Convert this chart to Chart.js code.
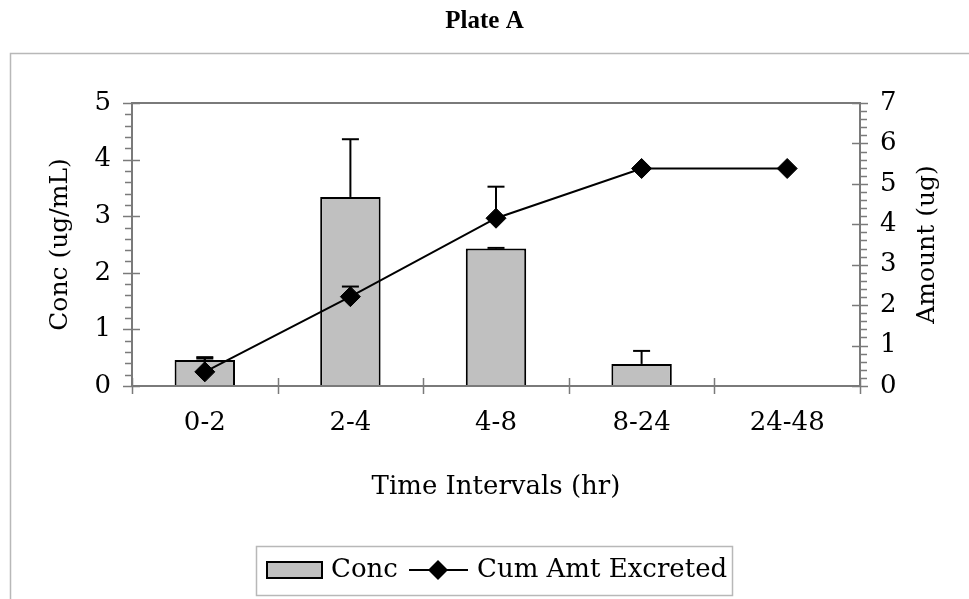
<!DOCTYPE html>
<html>
<head>
<meta charset="utf-8">
<script src="https://cdn.jsdelivr.net/npm/chart.js@4"></script>
<style>
  html, body { margin: 0; padding: 0; background: #ffffff; }
  #wrap { width: 969px; height: 599px; }
</style>
</head>
<body>
<div id="wrap"><canvas id="chart" width="969" height="599"></canvas></div>
<script>
// Urinary excretion, Plate A
const categories = ['0-2', '2-4', '4-8', '8-24', '24-48'];
const concValues = [0.46, 3.34, 2.43, 0.39, 0];
const concErrors = [0.05, 1.02, 0.01, 0.23, 0];
const amountValues = [0.35, 2.21, 4.15, 5.38, 5.38];
const amountErrors = [0.33, 0.25, 0.78, 0, 0];
const concTicks = [0, 1, 2, 3, 4, 5];
const amountTicks = [0, 1, 2, 3, 4, 5, 6, 7];

const SERIF = "'DejaVu Serif', 'Liberation Serif', serif";
const AXIS_GREY = '#7a7a7a';
const FRAME_GREY = '#b8b8b8';

function line(ctx, x1, y1, x2, y2) {
  ctx.beginPath();
  ctx.moveTo(x1, y1);
  ctx.lineTo(x2, y2);
  ctx.stroke();
}

// Upward error bars for each dataset, from its own scale
function drawErrorBars(chart, datasetIndex, errors) {
  const meta = chart.getDatasetMeta(datasetIndex);
  const scale = chart.scales[meta.yAxisID];
  const values = chart.data.datasets[datasetIndex].data;
  const ctx = chart.ctx;
  ctx.save();
  ctx.strokeStyle = '#000';
  ctx.lineWidth = 2;
  meta.data.forEach((el, i) => {
    const e = errors[i];
    if (!e) return;
    const y0 = scale.getPixelForValue(values[i]);
    const y1 = scale.getPixelForValue(values[i] + e);
    line(ctx, el.x, y0, el.x, y1);
    line(ctx, el.x - 8.5, y1, el.x + 8.5, y1);
  });
  ctx.restore();
}

const decorations = {
  id: 'decorations',
  beforeDraw(chart) {
    const ctx = chart.ctx;
    ctx.save();
    ctx.strokeStyle = FRAME_GREY;
    ctx.lineWidth = 1.5;
    ctx.strokeRect(10.5, 53.5, chart.width, chart.height);
    ctx.restore();
  },
  afterDatasetsDraw(chart) {
    drawErrorBars(chart, 1, concErrors);
    drawErrorBars(chart, 0, amountErrors);
  },
  afterDraw(chart) {
    const ctx = chart.ctx;
    const { left, right, top, bottom } = chart.chartArea;
    const xs = chart.scales.x, yl = chart.scales.y, yr = chart.scales.y1;

    ctx.save();
    ctx.strokeStyle = AXIS_GREY;
    ctx.lineWidth = 2;
    ctx.strokeRect(left, top, right - left, bottom - top);

    // left axis ticks: majors cross the axis, minors every 0.2 outside
    ctx.lineWidth = 1.5;
    const lMin = concTicks[0], lMax = concTicks[concTicks.length - 1];
    for (let k = 0; k <= (lMax - lMin) * 5; k++) {
      const v = lMin + k / 5;
      const y = Math.round(yl.getPixelForValue(v)) + 0.5;
      if (k % 5 === 0) line(ctx, left - 9, y, left + 8, y);
      else line(ctx, left - 7, y, left, y);
    }
    // right axis ticks
    const rMin = amountTicks[0], rMax = amountTicks[amountTicks.length - 1];
    for (let k = 0; k <= (rMax - rMin) * 5; k++) {
      const v = rMin + k / 5;
      const y = Math.round(yr.getPixelForValue(v)) + 0.5;
      if (k % 5 === 0) line(ctx, right - 8, y, right + 8, y);
      else line(ctx, right, y, right + 7, y);
    }
    // category boundary ticks on the x axis
    for (let i = 0; i <= categories.length; i++) {
      const x = Math.round(xs.getPixelForValue(i - 0.5)) + 0.5;
      line(ctx, x, bottom - 8, x, bottom + 8);
    }
    ctx.restore();

    // right axis title, reading bottom to top
    ctx.save();
    ctx.fillStyle = '#000';
    ctx.font = '25px ' + SERIF;
    ctx.textAlign = 'center';
    ctx.textBaseline = 'middle';
    ctx.translate(927, (top + bottom) / 2);
    ctx.rotate(-Math.PI / 2);
    ctx.fillText('Amount (ug)', 0, 0);
    ctx.restore();

    // legend
    const barDs = chart.data.datasets[1], lineDs = chart.data.datasets[0];
    ctx.save();
    ctx.strokeStyle = FRAME_GREY;
    ctx.lineWidth = 1.5;
    ctx.strokeRect(256.5, 546.5, 476, 49);
    ctx.font = '26px ' + SERIF;
    ctx.textBaseline = 'middle';
    ctx.textAlign = 'left';
    const cy = 570;
    ctx.fillStyle = barDs.backgroundColor;
    ctx.fillRect(267, cy - 8, 55, 16);
    ctx.strokeStyle = barDs.borderColor;
    ctx.lineWidth = 2;
    ctx.strokeRect(267, cy - 8, 55, 16);
    ctx.fillStyle = '#000';
    ctx.fillText(barDs.label, 331, cy);
    ctx.strokeStyle = lineDs.borderColor;
    line(ctx, 409, cy, 468, cy);
    ctx.beginPath();
    ctx.moveTo(438, cy - 10);
    ctx.lineTo(448, cy);
    ctx.lineTo(438, cy + 10);
    ctx.lineTo(428, cy);
    ctx.closePath();
    ctx.fillStyle = '#000';
    ctx.fill();
    ctx.fillText(lineDs.label, 477, cy);
    ctx.restore();
  }
};

Chart.defaults.font.family = SERIF;
Chart.defaults.color = '#000';

new Chart(document.getElementById('chart'), {
  data: {
    labels: categories,
    datasets: [
      {
        type: 'line',
        label: 'Cum Amt Excreted',
        data: amountValues,
        yAxisID: 'y1',
        borderColor: '#000',
        borderWidth: 2,
        tension: 0,
        pointStyle: 'rectRot',
        pointRadius: 10,
        pointBackgroundColor: '#000',
        pointBorderColor: '#000',
        pointBorderWidth: 1,
        order: 0
      },
      {
        type: 'bar',
        label: 'Conc',
        data: concValues,
        yAxisID: 'y',
        backgroundColor: '#c0c0c0',
        borderColor: '#000',
        borderWidth: 2,
        barPercentage: 0.415,
        categoryPercentage: 1,
        order: 1
      }
    ]
  },
  options: {
    responsive: false,
    animation: false,
    events: [],
    layout: { padding: 0 },
    plugins: {
      legend: { display: false },
      tooltip: { enabled: false },
      title: {
        display: true,
        text: 'Plate A',
        color: '#000',
        font: { family: "'Liberation Serif', serif", size: 25, weight: 'bold' },
        padding: { top: 7, bottom: 66 }
      }
    },
    scales: {
      x: {
        type: 'category',
        offset: true,
        grid: { display: false, drawTicks: false },
        border: { display: false },
        ticks: { font: { size: 26 }, color: '#000', padding: 22, maxRotation: 0, autoSkip: false },
        title: { display: true, text: 'Time Intervals (hr)', font: { size: 26 }, color: '#000', padding: { top: 0, bottom: 96 } },
        afterFit(s) { s.height = 213; }
      },
      y: {
        position: 'left',
        min: concTicks[0],
        max: concTicks[concTicks.length - 1],
        grid: { display: false, drawTicks: false },
        border: { display: false },
        ticks: { stepSize: 1, font: { size: 26 }, color: '#000', padding: 21 },
        title: { display: true, text: 'Conc (ug/mL)', font: { size: 25 }, color: '#000', padding: { top: 45, bottom: 0 } },
        afterFit(s) { s.width = 132; }
      },
      y1: {
        position: 'right',
        min: amountTicks[0],
        max: amountTicks[amountTicks.length - 1],
        grid: { display: false, drawTicks: false },
        border: { display: false },
        ticks: { stepSize: 1, font: { size: 26 }, color: '#000', padding: 20 },
        afterFit(s) { s.width = 109; }
      }
    }
  },
  plugins: [decorations]
});
</script>
</body>
</html>
